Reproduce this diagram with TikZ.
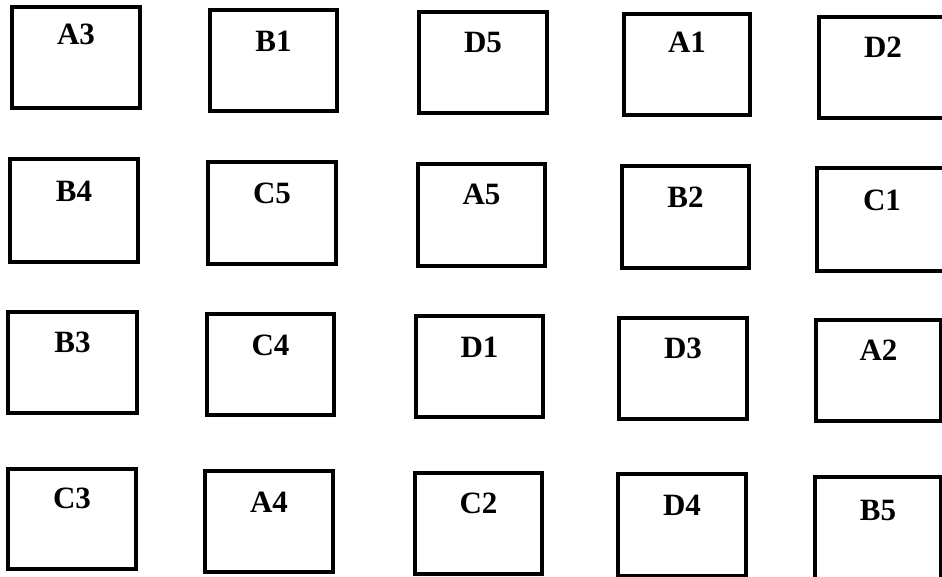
\documentclass[tikz,border=0pt]{standalone}
\usepackage{fontspec}
\setmainfont{Liberation Serif}
\tikzset{
  bx/.style={draw, line width=3.2pt, inner sep=0pt, outer sep=0pt},
  lbl/.style={font=\fontsize{31}{31}\selectfont\bfseries, inner sep=0pt, anchor=base}
}
% #1 name, #2 x1, #3 y1, #4 x2, #5 y2, #6 label baseline y, #7 label
\newcommand\cellbox[7]{%
  \node[bx, minimum width={(#4-#2)*1pt}, minimum height={(#5-#3)*1pt}] (#1) at ({(#2+#4)/2},{(#3+#5)/2}) {};
  \node[lbl] (#1t) at ({(#2+#4)/2},#6) {#7};
}
\begin{document}
\begin{tikzpicture}[x=1pt,y=-1pt]
\useasboundingbox (0,0) rectangle (942,577);
\clip (0,0) rectangle (942,577);
\fill[white] (0,0) rectangle (942,577);
% row 1
\cellbox{a3}{12}{7}{140}{108}{45}{A3}
\cellbox{b1}{210}{10}{337}{111}{52}{B1}
\cellbox{d5}{419}{12}{547}{113}{53}{D5}
\cellbox{a1}{624}{14}{750}{115}{53}{A1}
\cellbox{d2}{819}{17}{947}{118}{58}{D2}
% row 2
\cellbox{b4}{10}{159}{138}{262}{202}{B4}
\cellbox{c5}{208}{162}{336}{264}{204}{C5}
\cellbox{a5}{418}{164}{545}{266}{205}{A5}
\cellbox{b2}{622}{166}{749}{268}{208}{B2}
\cellbox{c1}{817}{168}{947}{271}{211}{C1}
% row 3
\cellbox{b3}{8}{312}{137}{413}{352}{B3}
\cellbox{c4}{207}{314}{334}{415}{355}{C4}
\cellbox{d1}{416}{316}{543}{417}{357}{D1}
\cellbox{d3}{619}{318}{747}{419}{358}{D3}
\cellbox{a2}{816}{320}{941}{421}{360}{A2}
% row 4
\cellbox{c3}{8}{469}{136}{569}{508}{C3}
\cellbox{a4}{205}{471}{333}{572}{512}{A4}
\cellbox{c2}{415}{473}{542}{574}{513}{C2}
\cellbox{d4}{618}{474}{746}{576}{515}{D4}
\cellbox{b5}{815}{477}{941}{580}{520}{B5}
\end{tikzpicture}
\end{document}
